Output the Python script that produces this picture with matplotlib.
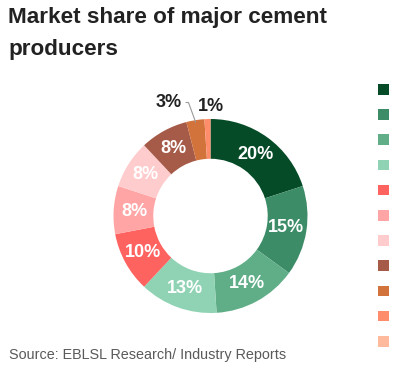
import matplotlib
matplotlib.use("Agg")
import matplotlib.pyplot as plt
from matplotlib.patches import Rectangle
import numpy as np

# shares in %, clockwise from 12 o'clock (last producer too small to show)
shares = [20, 15, 14, 13, 10, 8, 8, 8, 3, 1, 0]
colors = ["#064b27", "#3c8c67", "#5fae88", "#8fd3b4", "#ff6360", "#ffa5a5",
          "#ffcccd", "#a65a48", "#d1733b", "#ff8d6c", "#ffb99c"]
outside = {8, 9}  # slices labelled outside the ring

W, H = 394, 369
fig = plt.figure(figsize=(W / 100, H / 100), dpi=100)
fig.patch.set_facecolor("white")

cx, cy, R = 210.5, 216, 97
ax = fig.add_axes([(cx - R) / W, (H - cy - R) / H, 2 * R / W, 2 * R / H])
wedges, _ = ax.pie(shares, colors=colors, startangle=90, counterclock=False,
                   radius=1, wedgeprops=dict(width=0.41, linewidth=0))
ax.set_xlim(-1, 1)
ax.set_ylim(-1, 1)
ax.set_aspect("equal")
ax.axis("off")

font = "Liberation Sans"
for i, (w, v) in enumerate(zip(wedges, shares)):
    if v == 0:
        continue
    mid = np.deg2rad((w.theta1 + w.theta2) / 2)
    x, y = np.cos(mid), np.sin(mid)
    if i not in outside:
        ax.text(0.79 * x, 0.79 * y, f"{v}%", ha="center", va="center",
                color="white", fontsize=13, fontweight="bold", family=font)
    elif i == 8:
        ax.annotate(f"{v}%", xy=(0.98 * x, 0.98 * y), xytext=(-0.43, 1.17),
                    ha="center", va="center", fontsize=13, fontweight="bold",
                    color="#222222", family=font, annotation_clip=False,
                    arrowprops=dict(arrowstyle="-", color="#9a9a9a", lw=0.8,
                                    shrinkA=1, shrinkB=0,
                                    connectionstyle="angle,angleA=0,angleB=110"))
    else:
        ax.text(0.0, 1.125, f"{v}%", ha="center", va="center",
                color="#222222", fontsize=13, fontweight="bold", family=font)

# legend swatches (labels fall outside the visible area)
for i, c in enumerate(colors):
    top = 84 + i * 25.2
    fig.add_artist(Rectangle((378 / W, 1 - (top + 10.5) / H), 10.5 / W, 10.5 / H,
                             transform=fig.transFigure, color=c, lw=0))

title_lines = ["Market share of major cement", "producers"]
for line, base in zip(title_lines, [23, 55]):
    fig.text(8 / W, 1 - base / H, line, ha="left", va="baseline",
             fontsize=16.2, fontweight="bold", color="#222222", family=font)
fig.text(9 / W, 1 - 355 / H, "Source: EBLSL Research/ Industry Reports",
         ha="left", va="center", fontsize=10.4, color="#5a5a5a", family=font)

fig.savefig("out.png", dpi=100, facecolor="white")
